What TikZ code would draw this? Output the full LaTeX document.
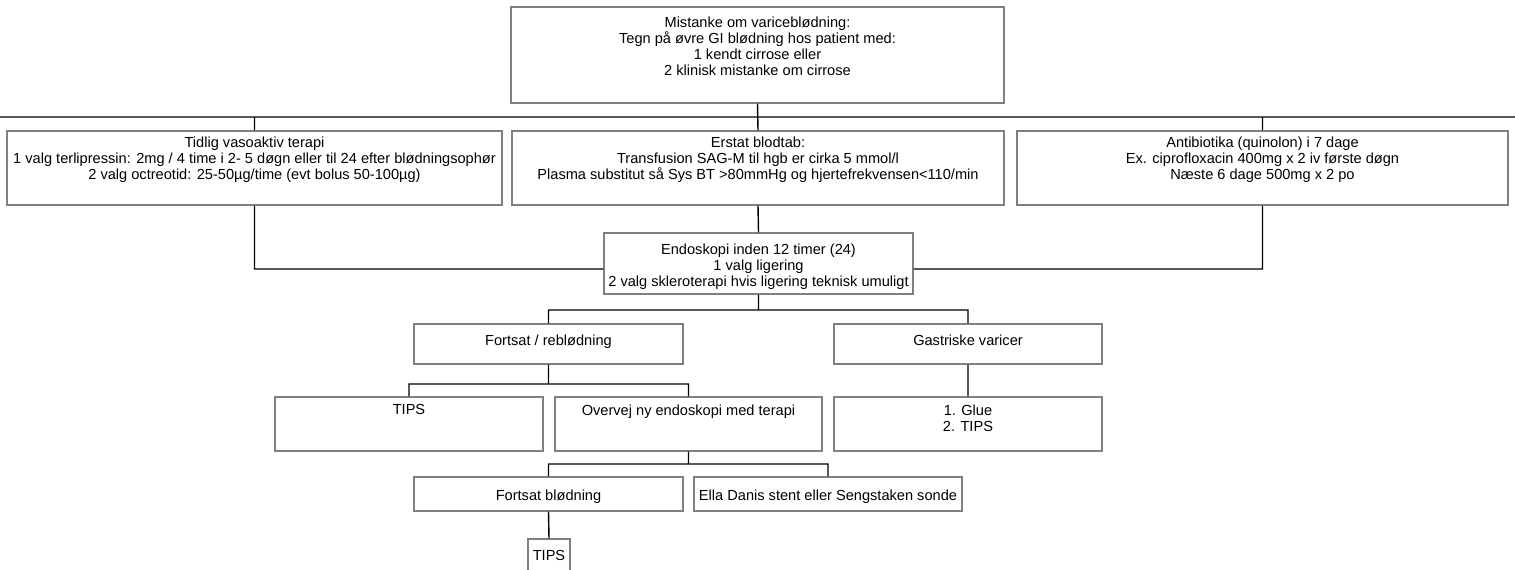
\documentclass[tikz,border=0pt]{standalone}
\usepackage{fontspec}
\setmainfont{Liberation Sans}
\usetikzlibrary{positioning}

\begin{document}
\begin{tikzpicture}[x=1pt,y=1pt,
    box/.style={draw=black!50,line width=1.1pt,inner sep=0pt},
    txt/.style={align=center,inner sep=0pt,font=\fontsize{14.6}{16.2}\selectfont},
    conn/.style={draw=black,line width=1.4pt}]
  \useasboundingbox (0,0) rectangle (1515,-570);

  % boxes
  \node[box,minimum width=493pt,minimum height=96pt] (mist) at (757.5,-55) {};
  \node[box,minimum width=495pt,minimum height=74pt] (vaso) at (254.5,-168) {};
  \node[box,minimum width=492pt,minimum height=74pt] (blod) at (758,-168) {};
  \node[box,minimum width=491pt,minimum height=74pt] (anti) at (1262.5,-168) {};
  \node[box,minimum width=309pt,minimum height=61pt] (endo) at (758.5,-263.5) {};
  \node[box,minimum width=269pt,minimum height=40pt] (rebl) at (548.5,-344) {};
  \node[box,minimum width=268pt,minimum height=40pt] (gast) at (968,-344) {};
  \node[box,minimum width=268pt,minimum height=54pt] (tipsA) at (409,-424) {};
  \node[box,minimum width=267pt,minimum height=54pt] (overvej) at (688.5,-424) {};
  \node[box,minimum width=268pt,minimum height=54pt] (glue) at (968,-424) {};
  \node[box,minimum width=269pt,minimum height=34pt] (fblod) at (548.5,-494) {};
  \node[box,minimum width=268pt,minimum height=34pt] (ella) at (828,-494) {};
  \node[box,minimum width=42pt,minimum height=41pt] (tipsB) at (549,-559.5) {};

  % texts
  \node[txt,below=10pt of mist.north] (mist-t)
    {Mistanke om variceblødning:\\Tegn på øvre GI blødning hos patient med:\\1 kendt cirrose eller\\2 klinisk mistanke om cirrose};
  \node[txt,below=6pt of vaso.north] (vaso-t)
    {Tidlig vasoaktiv terapi\\1 valg terlipressin: 2mg / 4 time i 2- 5 døgn eller til 24 efter blødningsophør\\2 valg octreotid: 25-50µg/time (evt bolus 50-100µg)};
  \node[txt,below=6pt of blod.north] (blod-t)
    {Erstat blodtab:\\Transfusion SAG-M til hgb er cirka 5 mmol/l\\Plasma substitut så Sys BT >80mmHg og hjertefrekvensen<110/min};
  \node[txt,below=6pt of anti.north] (anti-t)
    {Antibiotika (quinolon) i 7 dage\\Ex. ciprofloxacin 400mg x 2 iv første døgn\\Næste 6 dage 500mg x 2 po};
  \node[txt,below=11pt of endo.north] (endo-t)
    {Endoskopi inden 12 timer (24)\\1 valg ligering\\2 valg skleroterapi hvis ligering teknisk umuligt};
  \node[txt,below=11pt of rebl.north] (rebl-t) {Fortsat / reblødning};
  \node[txt,below=11pt of gast.north] (gast-t) {Gastriske varicer};
  \node[txt,below=8pt of tipsA.north] (tipsA-t) {TIPS};
  \node[txt,below=8pt of overvej.north] (overvej-t) {Overvej ny endoskopi med terapi};
  \node[txt,below=8pt of glue.north] (glue-t) {1. Glue\\2. TIPS};
  \node[txt,below=13pt of fblod.north] (fblod-t) {Fortsat blødning};
  \node[txt,below=13pt of ella.north] (ella-t) {Ella Danis stent eller Sengstaken sonde};
  \node[txt,below=12pt of tipsB.north] (tipsB-t) {TIPS};

  % connectors
  \coordinate (busL) at (0,-117);
  \coordinate (busR) at (1515,-117);
  \coordinate (b2) at (0,-269);
  \coordinate (b3) at (0,-310);
  \coordinate (b4) at (0,-384);
  \coordinate (b5) at (0,-464);
  \path[conn]
    (busL) -- (busR)
    (mist.south) -- (blod.north)
    (vaso.north) -- (vaso.north |- busL)
    (anti.north) -- (anti.north |- busL)
    (vaso.south) |- (endo.west |- b2)
    (anti.south) |- (endo.east |- b2)
    (blod.south) -- (endo.north)
    (endo.south) -- (endo.south |- b3) -| (rebl.north)
    (endo.south |- b3) -| (gast.north)
    (rebl.south) -- (rebl.south |- b4) -| (tipsA.north)
    (rebl.south |- b4) -| (overvej.north)
    (gast.south) -- (glue.north)
    (overvej.south) -- (overvej.south |- b5) -| (fblod.north)
    (overvej.south |- b5) -| (ella.north)
    (fblod.south) -- (tipsB.north);
\end{tikzpicture}
\end{document}
